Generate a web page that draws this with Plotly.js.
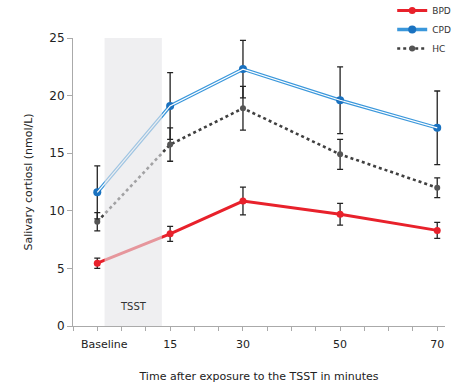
<!DOCTYPE html>
<html>
<head>
<meta charset="utf-8">
<script src="https://cdn.plot.ly/plotly-3.0.1.min.js"></script>
<style>html,body{margin:0;padding:0;background:#fff;}#chart{width:455px;height:385px;}</style>
</head>
<body>
<div id="chart"></div>
<script>
var times = [0, 15, 30, 50, 70];
var tickVals = [-5, 0, 5, 10, 15, 20, 25, 30, 35, 40, 45, 50, 55, 60, 65, 70];
var tickText = ['', '\u00a0\u00a0\u00a0\u00a0Baseline', '', '', '15', '', '', '30', '', '', '', '50', '', '', '', '70'];
var bpd = [5.45, 8.0, 10.85, 9.7, 8.3];
var bpdErr = [0.45, 0.65, 1.2, 0.95, 0.7];
var cpd = [11.6, 19.1, 22.3, 19.6, 17.2];
var cpdErr = [2.3, 2.9, 2.5, 2.9, 3.2];
var hc = [9.05, 15.75, 18.9, 14.9, 12.0];
var hcErr = [0.8, 1.45, 1.9, 1.3, 0.85];
var tsstRange = [1.5, 13.3];

var font = 'DejaVu Sans, Verdana, sans-serif';
var errStyle = function(arr){ return {type:'data', array:arr, visible:true, color:'#222', thickness:1.3, width:3}; };

var traces = [
  {x: times, y: hc, name: 'HC', legendgroup:'HC', legendrank:3, mode:'lines+markers',
   line:{color:'#404040', width:2.6, dash:'dot'}, marker:{color:'#555', size:6, symbol:'circle'},
   error_y: errStyle(hcErr)},
  {x: times, y: cpd, name: 'CPD', legendgroup:'CPD', legendrank:2, mode:'lines+markers',
   line:{color:'#3a97db', width:3.6}, marker:{color:'#1a72c0', size:8},
   error_y: errStyle(cpdErr)},
  {x: times, y: cpd, name: 'CPD', legendgroup:'CPD', showlegend:false, mode:'lines', hoverinfo:'skip',
   line:{color:'#ffffff', width:1.2}},
  {x: times, y: bpd, name: 'BPD', legendgroup:'BPD', legendrank:1, mode:'lines+markers',
   line:{color:'#e8212b', width:3}, marker:{color:'#e8212b', size:7},
   error_y: errStyle(bpdErr)}
];

var layout = {
  width: 455, height: 385,
  margin: {l:73, r:10, t:38, b:59, autoexpand:false},
  paper_bgcolor:'#fff', plot_bgcolor:'#fff',
  font: {family: font, color:'#333', size:11},
  showlegend: true,
  legend: {xref:'container', yref:'paper', x:0.862, xanchor:'left', y:1.1458, yanchor:'top',
           font:{size:9, family:font, color:'#333'}, tracegroupgap:0, bgcolor:'rgba(0,0,0,0)'},
  xaxis: {range:[-5, 71.6], tickmode:'array', tickvals:tickVals, ticktext:tickText,
          showgrid:false, zeroline:false, showline:true, linecolor:'#aaa', linewidth:1,
          ticks:'outside', ticklen:4, tickcolor:'#aaa', tickfont:{size:11, color:'#222'},
          ticklabelstandoff:4,
          title:{text:'Time after exposure to the TSST in minutes', font:{size:11, color:'#222'}, standoff:22}},
  yaxis: {range:[0, 25], tickvals:[0,5,10,15,20,25], showgrid:false, zeroline:false,
          showline:true, linecolor:'#aaa', linewidth:1, ticks:'outside', ticklen:5, tickcolor:'#aaa',
          tickfont:{size:12, color:'#222'},
          title:{text:'Salivary cortiosl (nmol/L)', font:{size:11, color:'#222'}, standoff:14}},
  shapes: [{type:'rect', xref:'x', yref:'y', x0:tsstRange[0], x1:tsstRange[1], y0:0, y1:25,
            fillcolor:'#e4e4e8', opacity:0.6, line:{width:0}, layer:'above'}],
  annotations: [{xref:'x', yref:'y', x:(tsstRange[0]+tsstRange[1])/2, y:1.7, text:'TSST', showarrow:false,
                 font:{size:10, color:'#333', family:font}}]
};

Plotly.newPlot('chart', traces, layout, {displayModeBar:false, staticPlot:true});
</script>
</body>
</html>
